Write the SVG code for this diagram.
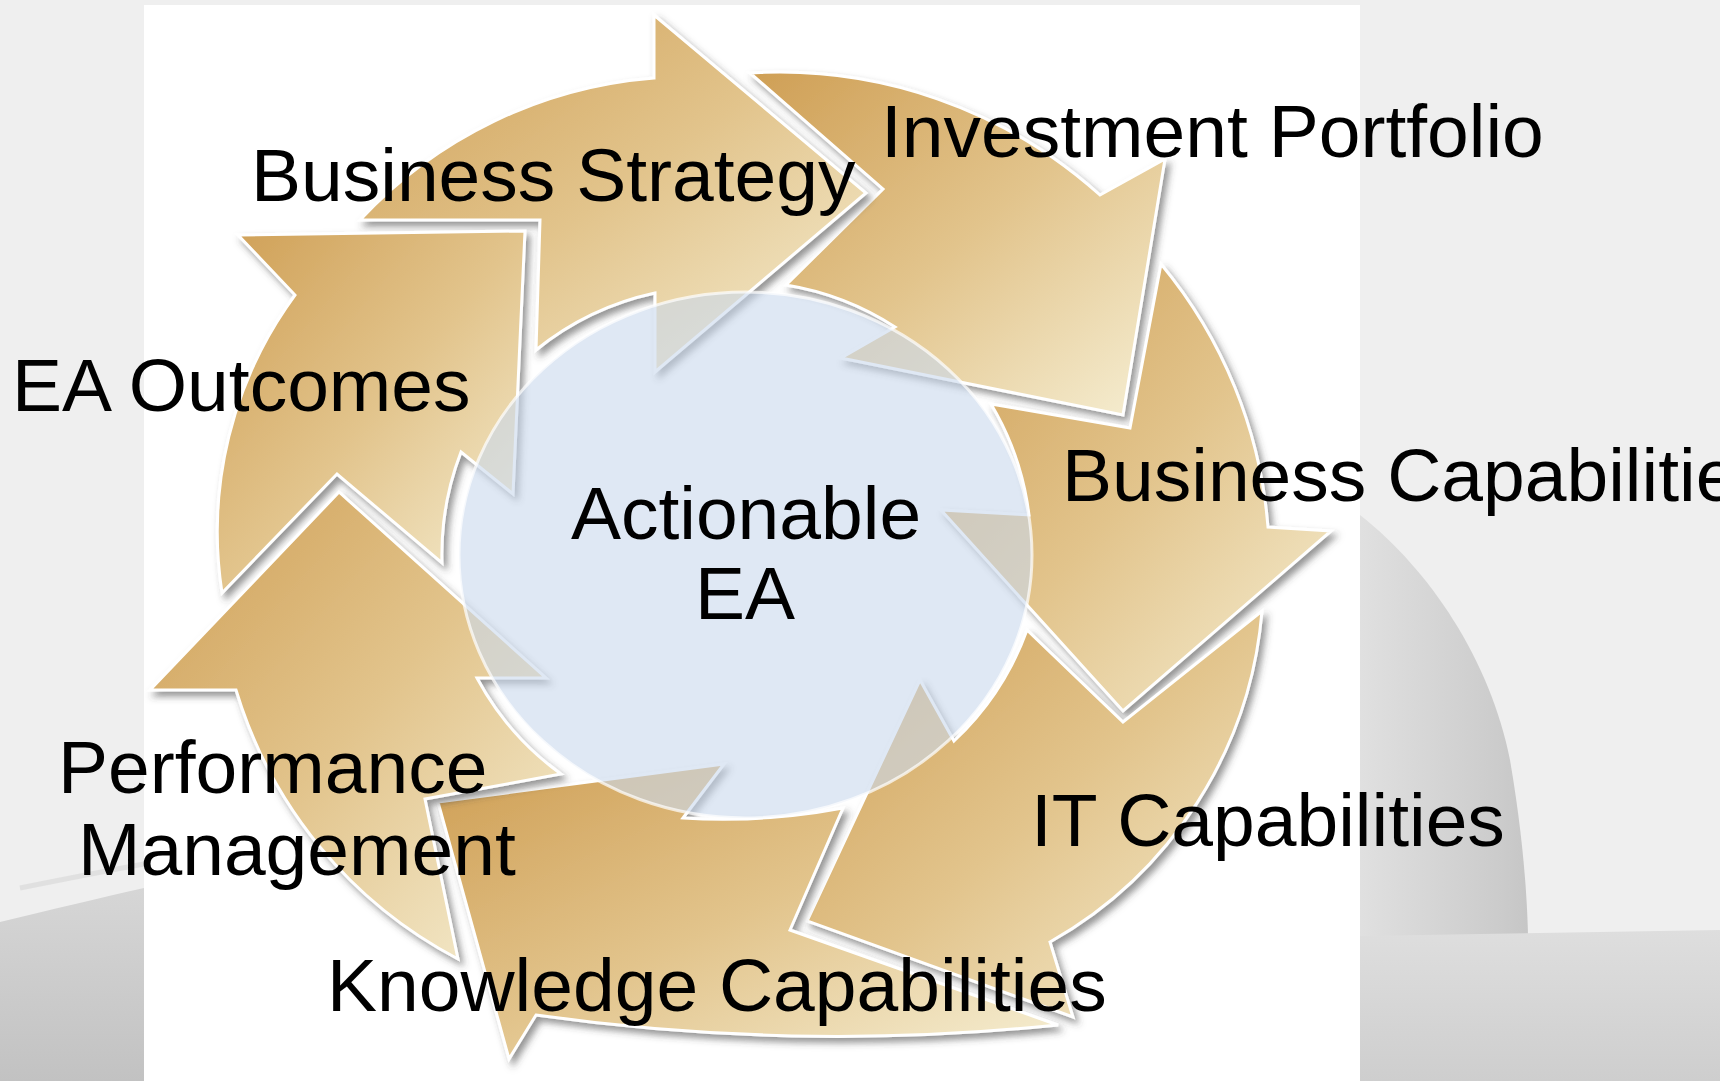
<svg xmlns="http://www.w3.org/2000/svg" width="1720" height="1081" viewBox="0 0 1720 1081">
<defs>
  <linearGradient id="gold" x1="0" y1="0" x2="1" y2="1">
    <stop offset="0" stop-color="#cf9f55"/>
    <stop offset="0.5" stop-color="#e2c48c"/>
    <stop offset="1" stop-color="#f6efd4"/>
  </linearGradient>
  <linearGradient id="bgL" x1="0" y1="0" x2="0" y2="1">
    <stop offset="0" stop-color="#d6d6d6"/>
    <stop offset="1" stop-color="#c2c2c2"/>
  </linearGradient>
  <linearGradient id="bgCurl" x1="0" y1="0" x2="1" y2="0">
    <stop offset="0" stop-color="#e0e0e0"/>
    <stop offset="0.85" stop-color="#cbcbcb"/>
    <stop offset="1" stop-color="#c6c6c6"/>
  </linearGradient>
  <linearGradient id="bgB" x1="0" y1="0" x2="0" y2="1">
    <stop offset="0" stop-color="#dedede"/>
    <stop offset="1" stop-color="#cecece"/>
  </linearGradient>
  <filter id="shadow" x="-10%" y="-10%" width="125%" height="125%">
    <feDropShadow dx="4" dy="5" stdDeviation="3.5" flood-color="#404040" flood-opacity="0.55"/>
  </filter>
</defs>
<style>
  .arrow { fill: url(#gold); stroke: #ffffff; stroke-width: 3; stroke-linejoin: miter; filter: url(#shadow); }
  .lbl { font-family: "Liberation Sans", Arial, sans-serif; font-size: 75px; fill: #000000; }
  .mid { text-anchor: middle; }
  .hub { fill: #cad9ec; fill-opacity: 0.6; stroke: #ffffff; stroke-width: 3; stroke-opacity: 0.7; }
</style>

<!-- background -->
<rect x="0" y="0" width="1720" height="1081" fill="#efefef"/>
<path d="M0,922 C50,910 100,898 144,888 L144,1081 L0,1081 Z" fill="url(#bgL)"/>
<path d="M20,888 C60,880 100,872 144,864" fill="none" stroke="#dcdcdc" stroke-width="5" stroke-opacity="0.8"/>
<path d="M1360,515 C1430,570 1490,660 1510,760 C1522,830 1527,890 1528,936 L1360,936 Z" fill="url(#bgCurl)"/>
<path d="M1360,936 L1720,930 L1720,1081 L1360,1081 Z" fill="url(#bgB)"/>
<rect x="144" y="5" width="1216" height="1076" fill="#ffffff"/>

<g id="node-investment-portfolio">
  <path class="arrow" d="M750,73 A480,480 0 0 1 1100,195 L1165,159 L1123,415 L841,358 L895,327 A285,285 0 0 0 786,285 L883,189 Z"/>
  <text class="lbl" x="881" y="157">Investment Portfolio</text>
</g>
<g id="node-business-strategy">
  <path class="arrow" d="M360,220 A450,450 0 0 1 654,78 L654,15 L866,193 L655,372 L655,293 A285,285 0 0 0 536,350 L540,220 Z"/>
  <text class="lbl" x="251" y="201">Business Strategy</text>
</g>
<g id="node-ea-outcomes">
  <path class="arrow" d="M222,593 A400,400 0 0 1 295,295 L238,235 L525,231 L513,494 L461,452 A285,285 0 0 0 442,563 L337,474 Z"/>
  <text class="lbl" x="12" y="411">EA Outcomes</text>
</g>
<g id="node-business-capabilities">
  <path class="arrow" d="M1161,264 A470,470 0 0 1 1268,527 L1331,531 L1123,711 L941,510 L1029,515 A285,285 0 0 0 991,404 L1130,428 Z"/>
  <text class="lbl" x="1062" y="501">Business Capabilities</text>
</g>
<g id="node-it-capabilities">
  <path class="arrow" d="M1262,611 A420,420 0 0 1 1050,942 L1073,1017 L807,921 L920,680 L954,741 A285,285 0 0 0 1027,630 L1123,722 Z"/>
  <text class="lbl" x="1031" y="846">IT Capabilities</text>
</g>
<g id="node-knowledge-capabilities">
  <path class="arrow" d="M1058,1025 Q797,1052 536,1015 L509,1059 L438,802 L724,764 L683,818 Q763,823 843,808 L790,930 Z"/>
  <text class="lbl" x="327" y="1011">Knowledge Capabilities</text>
</g>
<g id="node-performance-management">
  <path class="arrow" d="M458,959 A450,450 0 0 1 236,690 L150,690 L339,492 L546,678 L477,678 A285,285 0 0 0 561,774 L425,799 Z"/>
  <text class="lbl" x="58" y="793">Performance</text>
  <text class="lbl" x="78" y="875">Management</text>
</g>
<g id="node-actionable-ea">
  <ellipse class="hub" cx="745.5" cy="555" rx="286.5" ry="263"/>
  <text class="lbl mid" x="746" y="539">Actionable</text>
  <text class="lbl mid" x="745" y="619">EA</text>
</g>
<g id="connectors"/>
</svg>
